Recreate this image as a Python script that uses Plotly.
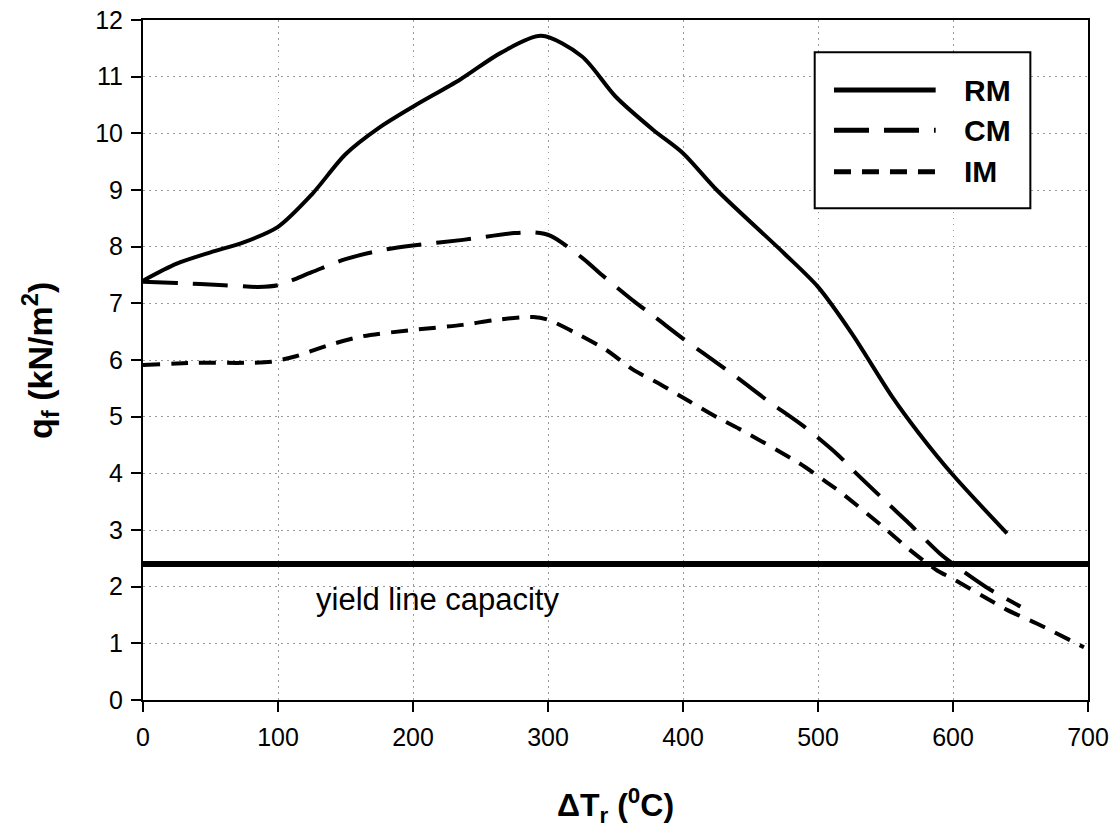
import plotly.graph_objects as go

# ---- data ----
rm_x = [0, 25, 50, 75, 100, 125, 150, 175, 200, 235, 265, 295, 325, 350, 378, 400, 425, 475, 500, 525, 555, 575, 600, 640]
rm_y = [7.4, 7.7, 7.9, 8.08, 8.35, 8.92, 9.63, 10.1, 10.47, 10.95, 11.42, 11.72, 11.36, 10.65, 10.06, 9.65, 9.0, 7.88, 7.29, 6.47, 5.35, 4.7, 3.97, 2.94]

cm_x = [0, 25, 60, 85, 100, 125, 150, 175, 200, 237, 275, 290, 302, 326, 340, 364, 378, 401, 415, 440, 464, 490, 515, 527, 553, 566, 590, 603, 628, 650]
cm_y = [7.38, 7.36, 7.32, 7.29, 7.32, 7.55, 7.78, 7.93, 8.02, 8.12, 8.24, 8.25, 8.19, 7.79, 7.5, 7.03, 6.78, 6.36, 6.12, 5.69, 5.26, 4.82, 4.32, 4.03, 3.44, 3.15, 2.59, 2.35, 1.94, 1.65]

im_x = [0, 40, 75, 95, 114, 136, 163, 200, 237, 262, 289, 300, 321, 343, 363, 384, 404, 425, 442, 486, 506, 516, 548, 568, 588, 599, 631, 640, 662, 697]
im_y = [5.91, 5.95, 5.95, 5.97, 6.07, 6.25, 6.42, 6.53, 6.62, 6.71, 6.76, 6.71, 6.47, 6.18, 5.83, 5.56, 5.28, 4.99, 4.78, 4.18, 3.85, 3.68, 3.06, 2.65, 2.29, 2.15, 1.71, 1.59, 1.35, 0.93]

yield_x = [0, 700]
yield_y = [2.4, 2.4]

series_names = ["RM", "CM", "IM"]
series_dash = ["solid", "35px,15px", "17px,11px"]

x_ticks = [0, 100, 200, 300, 400, 500, 600, 700]
y_ticks = list(range(0, 13))

FONT = "Liberation Sans, Arial, sans-serif"

fig = go.Figure()

fig.add_trace(go.Scatter(x=yield_x, y=yield_y, mode="lines",
                         line=dict(color="black", width=6), showlegend=False, hoverinfo="skip"))

for xs, ys, name, dash in zip([rm_x, cm_x, im_x], [rm_y, cm_y, im_y], series_names, series_dash):
    fig.add_trace(go.Scatter(x=xs, y=ys, mode="lines", name=name,
                             line=dict(color="black", width=4, dash=dash, shape="spline", smoothing=0.8),
                             showlegend=False))

# custom legend (paper coordinates)
fig.add_shape(type="rect", xref="paper", yref="paper", x0=0.7108, x1=0.939, y0=0.7231, y1=0.9525,
              line=dict(color="black", width=2), fillcolor="white", layer="above")
rows_y = [0.897, 0.838, 0.777]
for name, dash, ry in zip(series_names, series_dash, rows_y):
    fig.add_shape(type="line", xref="paper", yref="paper", x0=0.7312, x1=0.8388, y0=ry, y1=ry,
                  line=dict(color="black", width=5, dash=dash), layer="above")
    fig.add_annotation(xref="paper", yref="paper", x=0.8671, y=ry, text="<b>%s</b>" % name,
                       showarrow=False, xanchor="left", yanchor="middle",
                       font=dict(family=FONT, size=30, color="black"))

fig.add_annotation(x=127, y=1.78, xref="x", yref="y", text="yield line capacity", showarrow=False,
                   xanchor="left", yanchor="middle", font=dict(family=FONT, size=31, color="black"))

# axis titles
fig.add_annotation(xref="paper", yref="paper", x=0.5, y=-0.155, text="<b>ΔT<sub>r</sub> (<sup>0</sup>C)</b>",
                   showarrow=False, xanchor="center", yanchor="middle",
                   font=dict(family=FONT, size=32, color="black"))
fig.add_annotation(xref="paper", yref="paper", x=-0.109, y=0.5, text="<b>q<sub>f</sub> (kN/m<sup>2</sup>)</b>",
                   showarrow=False, xanchor="center", yanchor="middle", textangle=-90,
                   font=dict(family=FONT, size=34, color="black"))

axis_common = dict(showline=True, linecolor="black", linewidth=2, mirror=True,
                   ticks="outside", ticklen=10, tickwidth=2, tickcolor="black",
                   showgrid=True, gridcolor="#9a9a9a", gridwidth=1, griddash="1.5px,4.5px",
                   zeroline=False, automargin=False,
                   tickfont=dict(family=FONT, size=25, color="black"))

fig.update_xaxes(range=[0, 700], tickvals=x_ticks, ticktext=[str(v) for v in x_ticks],
                 ticklabelstandoff=4, **axis_common)
fig.update_yaxes(range=[0, 12], tickvals=y_ticks, ticktext=[str(v) for v in y_ticks],
                 ticklabelstandoff=3, **axis_common)

fig.update_layout(width=1117, height=833, margin=dict(l=143, r=29, t=20, b=133, autoexpand=False),
                  plot_bgcolor="white", paper_bgcolor="white", showlegend=False,
                  font=dict(family=FONT, color="black"))

fig.write_html("out.html", config={"displayModeBar": False},
               post_script="document.body.style.margin='0';document.body.style.overflow='hidden';")
